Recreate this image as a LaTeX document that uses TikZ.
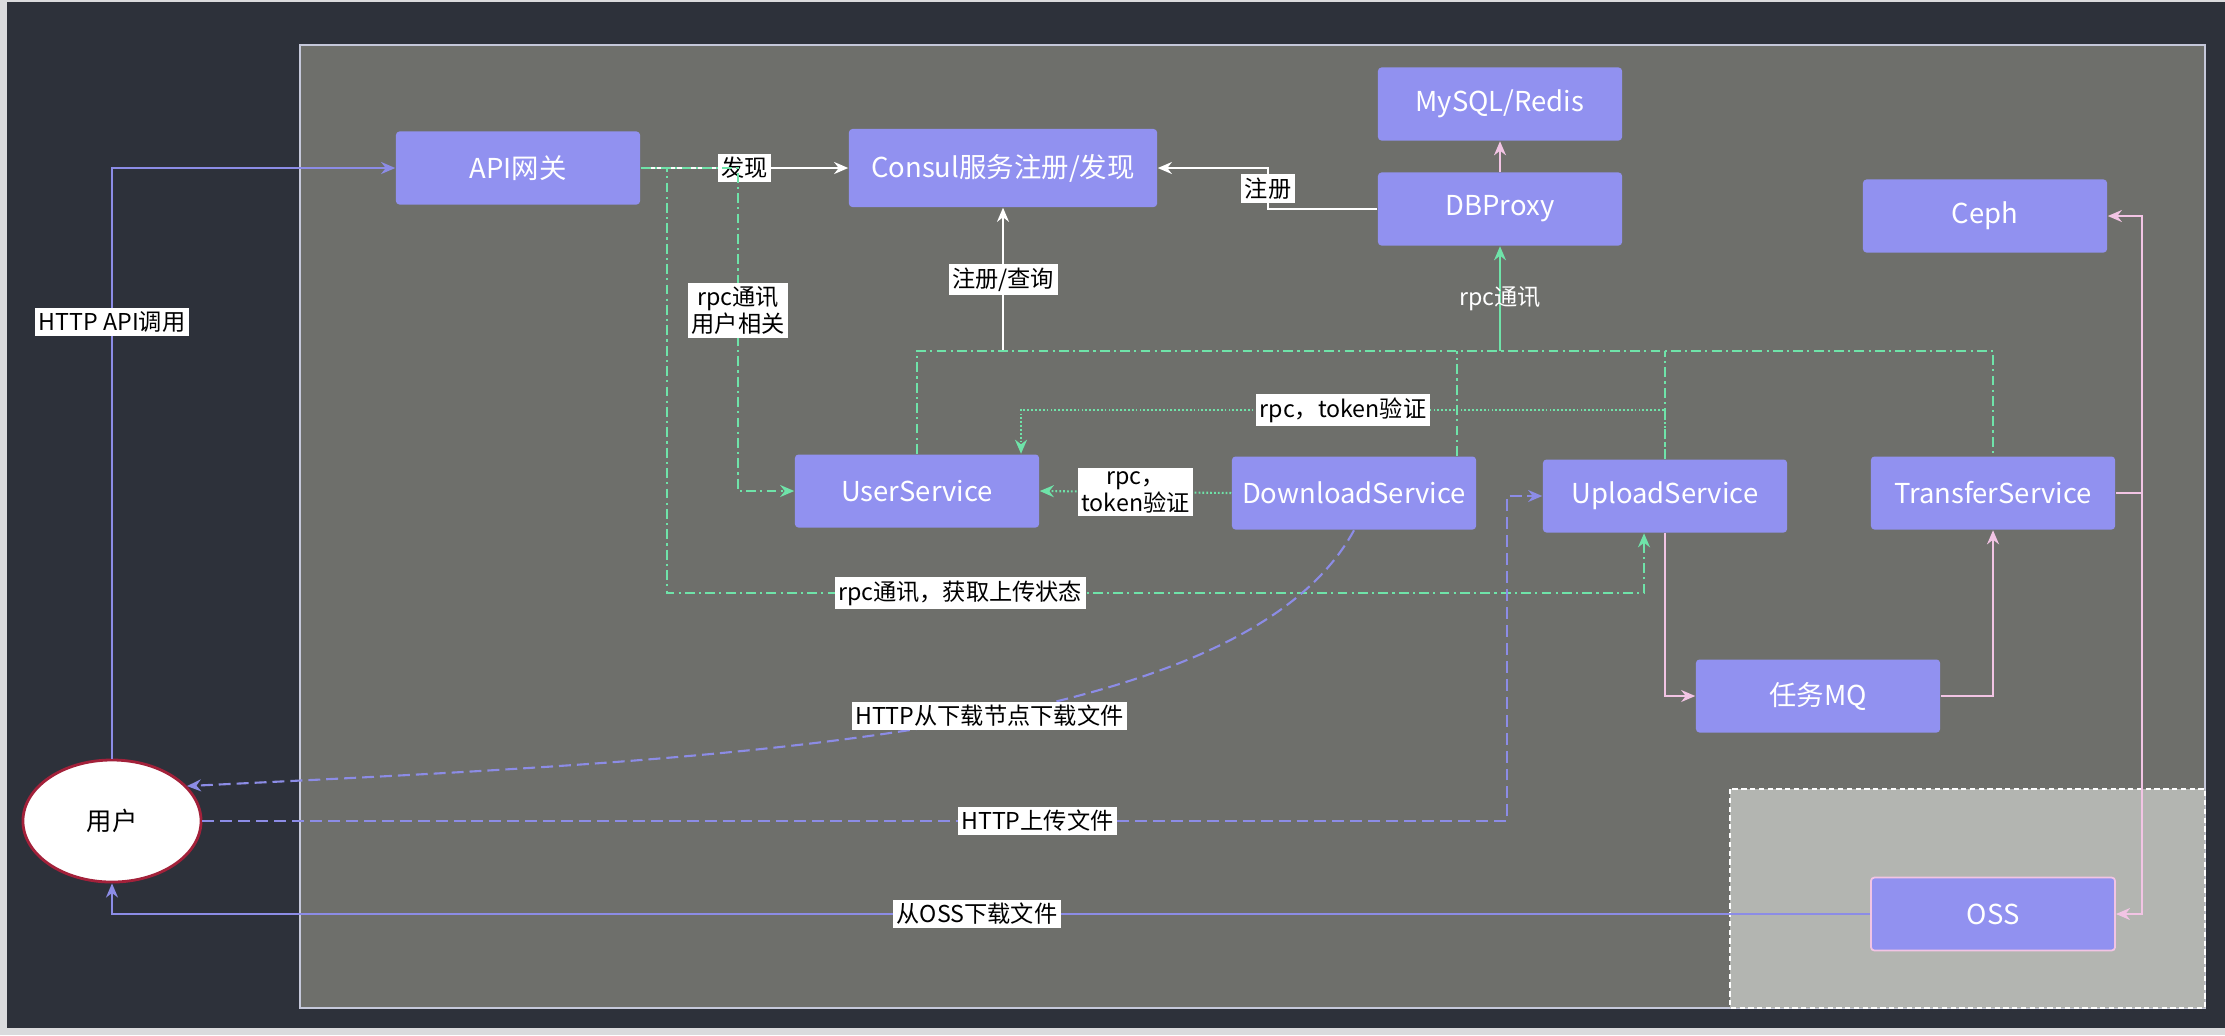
\documentclass[tikz,border=0pt]{standalone}
\usepackage{fontspec}
\setmainfont{Noto Sans CJK SC}
\usetikzlibrary{shapes.geometric,arrows.meta}
\definecolor{bgdark}{HTML}{2D313A}
\definecolor{stripc}{HTML}{DADBDD}
\definecolor{panelc}{HTML}{6E6F6B}
\definecolor{panelline}{HTML}{C5C8DA}
\definecolor{ossbg}{HTML}{B3B5B1}
\definecolor{boxfill}{HTML}{9191F0}
\definecolor{lav}{HTML}{8C8CE6}
\definecolor{mint}{HTML}{6FE3A9}
\definecolor{pinkc}{HTML}{F2C4E4}
\definecolor{userred}{HTML}{A3213A}
\begin{document}
\begin{tikzpicture}[x=0.01cm,y=-0.01cm,
    box/.style={rectangle,rounded corners=1pt,fill=boxfill,text=white,inner sep=0pt,
      minimum width=2.44cm,minimum height=0.73cm,font=\fontsize{7.8}{9}\selectfont},
    lbl/.style={fill=white,text=black,inner sep=1pt,align=center,font=\fontsize{6.6}{7.6}\selectfont},
    tip/.style={-{Stealth[length=4pt,width=3.4pt]}},
    whiteline/.style={draw=white,line width=0.6pt},
    lavline/.style={draw=lav,line width=0.6pt},
    httpline/.style={draw=lav,line width=0.6pt,dash pattern=on 3.4pt off 1.7pt},
    rpcline/.style={draw=mint,line width=0.6pt,dash pattern=on 2.8pt off 1.2pt on 0.6pt off 1.2pt},
    tokenline/.style={draw=mint,line width=0.6pt,dash pattern=on 0.5pt off 0.6pt},
    mqline/.style={draw=pinkc,line width=0.6pt}]
  \useasboundingbox (0,0) rectangle (2225,1035);
  \fill[bgdark] (0,0) rectangle (2225,1035);
  \fill[stripc] (0,1028) rectangle (2225,1035);
  \fill[stripc] (0,0) rectangle (7,1035);
  \fill[stripc] (0,0) rectangle (2225,2);
  \filldraw[fill=panelc,draw=panelline,line width=0.5pt] (300,45) rectangle (2205,1008);
  \filldraw[fill=ossbg,draw=white,line width=0.5pt,dash pattern=on 1.5pt off 1pt] (1730,789) rectangle (2205,1008);

  \foreach \name/\x/\y/\txt in {api/518/168/API网关, mysql/1500/104/{MySQL/Redis},
      dbproxy/1500/209/DBProxy, ceph/1985/216/Ceph, us/917/491/UserService,
      dl/1354/493/DownloadService, ul/1665/496/UploadService,
      ts/1993/493/TransferService, mq/1818/696/任务MQ}
    \node[box] (\name) at (\x,\y) {\txt};
  \node[box,minimum width=3.08cm,minimum height=0.78cm] (consul) at (1003,168) {Consul服务注册/发现};
  \node[box,draw=pinkc,line width=0.5pt] (oss) at (1993,914) {OSS};
  \node[ellipse,fill=white,draw=userred,line width=0.8pt,minimum width=1.78cm,minimum height=1.22cm,
    font=\fontsize{7.2}{8.5}\selectfont] (user) at (112,821) {用户};

  \draw[whiteline,tip] (api.east) -- node[lbl] {发现} (consul.west);
  \draw[whiteline,tip] (dbproxy.west) -- (1268,209) -- node[lbl] {注册} (1268,168) -- (consul.east);
  \draw[whiteline,tip] (1003,351) -- node[lbl] {注册/查询} (consul.south);

  \draw[rpcline] (us.north) -- (917,351) -- (1993,351) -- (ts.north);
  \draw[rpcline] (1457,0 |- dl.north) -- (1457,351);
  \draw[rpcline] (ul.north) -- (1665,351);
  \draw[mint,line width=0.6pt,tip] (1500,351) -- node[text=white,font=\fontsize{6.6}{7.6}\selectfont] {rpc通讯} (dbproxy.south);
  \draw[rpcline,tip] (api.east) -- (738,168) -- node[lbl,pos=0.44] {rpc通讯\\用户相关} (738,491) -- (us.west);
  \draw[rpcline,tip] (api.east) -- (667,168) -- (667,593) -- node[lbl,pos=0.3] {rpc通讯，获取上传状态} (1644,593) -- (1644,0 |- ul.south);
  \draw[tokenline,tip] (ul.north) |- node[lbl,pos=0.75] {rpc，token验证} (1021,410) -- (1021,0 |- us.north);
  \draw[tokenline,tip] (dl.west) -- node[lbl] {rpc，\\token验证} (us.east);

  \draw[lavline,tip] (user.north) |- node[lbl,pos=0.37] {HTTP API调用} (api.west);
  \draw[httpline,tip] (dl.south) .. controls (1240,740) and (720,760) .. node[lbl,pos=0.45] {HTTP从下载节点下载文件} (user.25);
  \draw[httpline,tip] (user.east) -- node[lbl,pos=0.64] {HTTP上传文件} (1507,821) |- (ul.west);
  \draw[lavline,tip] (oss.west) -| node[lbl,pos=0.254] {从OSS下载文件} (user.south);

  \draw[mqline,tip] (dbproxy.north) -- (mysql.south);
  \draw[mqline,tip] (ul.south) |- (mq.west);
  \draw[mqline,tip] (mq.east) -| (ts.south);
  \coordinate (split) at (ts.east -| 2142,0);
  \draw[mqline,tip] (ts.east) -- (split) |- (ceph.east);
  \draw[mqline,tip] (split) |- (oss.east);
\end{tikzpicture}
\end{document}
